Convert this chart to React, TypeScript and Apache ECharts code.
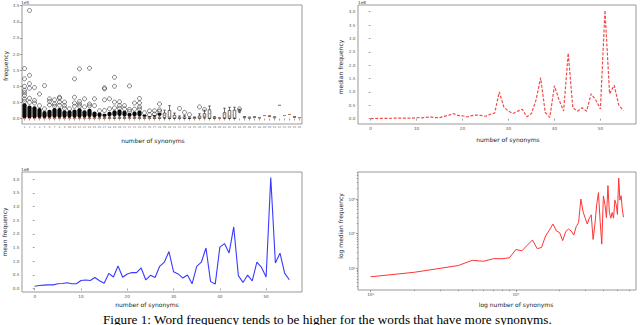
import React, { useEffect, useRef } from "react";
import * as echarts from "echarts";

// number of synonyms (box plot positions)
const synonymCounts = [1, 2, 3, 4, 5, 6, 7, 8, 9, 10, 11, 12, 13, 14, 15, 16, 17, 18, 19, 20, 21, 22, 23, 24, 25, 26, 27, 28, 29, 30, 31, 32, 33, 34, 35, 36, 37, 38, 39, 40, 41, 42, 43, 44, 45, 46, 47, 48, 49, 50, 51, 52, 53, 54, 55, 56];
// x values of the line charts
const synonymIndex = [0, 1, 2, 3, 4, 5, 6, 7, 8, 9, 10, 11, 12, 13, 14, 15, 16, 17, 18, 19, 20, 21, 22, 23, 24, 25, 26, 27, 28, 29, 30, 31, 32, 33, 34, 35, 36, 37, 38, 39, 40, 41, 42, 43, 44, 45, 46, 47, 48, 49, 50, 51, 52, 53, 54, 55];

// median frequency (units of 1e8)
const medianFreq = [
  0.0034, 0.0057, 0.0077, 0.010, 0.012, 0.017, 0.016, 0.019, 0.019, 0.020,
  0.035, 0.032, 0.047, 0.066, 0.037, 0.040, 0.086, 0.127, 0.19, 0.12,
  0.107, 0.063, 0.115, 0.136, 0.12, 0.091, 0.16, 0.21, 1.0, 0.43,
  0.28, 0.19, 0.28, 0.35, 0.068, 0.19, 0.70, 1.53, 0.23, 0.05,
  1.23, 0.70, 0.29, 2.45, 0.41, 0.28, 0.41, 0.28, 0.93, 0.70,
  0.36, 4.05, 0.93, 1.25, 0.51, 0.30,
];

// mean frequency (units of 1e8)
const meanFreq = [
  0.08, 0.11, 0.12, 0.13, 0.13, 0.17, 0.18, 0.21, 0.17, 0.17,
  0.29, 0.31, 0.29, 0.40, 0.28, 0.19, 0.55, 0.42, 0.82, 0.41,
  0.53, 0.58, 0.58, 0.75, 0.31, 0.48, 0.40, 0.81, 0.96, 1.35,
  0.61, 0.53, 0.38, 0.49, 0.17, 0.81, 0.96, 1.48, 0.25, 0.16,
  1.51, 1.64, 1.30, 2.25, 0.47, 0.22, 0.49, 0.28, 0.96, 0.77,
  0.42, 4.06, 0.93, 1.29, 0.56, 0.32,
];

// box plot statistics (units of 1e9); the median comes from medianFreq
const boxLow = [
  0, 0, 0, 0, 0, 0, 0, 0, 0, 0, 0, 0, 0, 0, 0, 0, 0, 0, 0, 0,
  0, 0, 0, 0, 0, 0, 0, 0, 0, 0, 0, 0, 0, 0, 0, 0, 0.01, 0, 0, 0,
  0, 0, 0, 0.18, 0.02, 0.01, 0.03, 0.02, 0.093, 0.06, 0.02, 0.405, 0.093, 0.125, 0.051, 0.03,
];
const boxQ1 = [
  0.0002, 0.0003, 0.0004, 0.0005, 0.0006, 0.0006, 0.0007, 0.0008, 0.0008, 0.001,
  0.001, 0.001, 0.002, 0.002, 0.002, 0.002, 0.003, 0.004, 0.004, 0.004,
  0.004, 0.003, 0.004, 0.004, 0.003, 0.003, 0.005, 0.005, 0.03, 0.008,
  0.008, 0.006, 0.01, 0.003, 0.008, 0.008, 0.04, 0.01, 0.01, 0.002,
  0.02, 0.01, 0.005, 0.22, 0.03, 0.02, 0.035, 0.025, 0.093, 0.065,
  0.03, 0.405, 0.093, 0.125, 0.051, 0.03,
];
const boxQ3 = [
  0.003, 0.004, 0.005, 0.006, 0.008, 0.008, 0.009, 0.01, 0.01, 0.012,
  0.012, 0.014, 0.016, 0.018, 0.016, 0.02, 0.025, 0.03, 0.03, 0.03,
  0.03, 0.025, 0.03, 0.03, 0.025, 0.02, 0.03, 0.04, 0.17, 0.25,
  0.10, 0.04, 0.05, 0.02, 0.03, 0.08, 0.15, 0.27, 0.04, 0.01,
  0.18, 0.25, 0.26, 0.27, 0.05, 0.035, 0.045, 0.03, 0.093, 0.075,
  0.045, 0.405, 0.093, 0.125, 0.051, 0.03,
];
const boxHigh = [
  0.007, 0.01, 0.012, 0.014, 0.019, 0.02, 0.022, 0.025, 0.025, 0.03,
  0.03, 0.033, 0.04, 0.045, 0.04, 0.05, 0.06, 0.07, 0.07, 0.075,
  0.07, 0.06, 0.07, 0.07, 0.06, 0.05, 0.07, 0.09, 0.26, 0.40,
  0.17, 0.08, 0.09, 0.04, 0.05, 0.15, 0.26, 0.39, 0.06, 0.02,
  0.32, 0.35, 0.35, 0.29, 0.06, 0.045, 0.05, 0.035, 0.093, 0.08,
  0.05, 0.405, 0.093, 0.125, 0.051, 0.03,
];
// top of the densely packed outliers (units of 1e9), only for the first groups
const denseTop = [
  0.47, 0.40, 0.38, 0.33, 0.23, 0.27, 0.33, 0.33, 0.26, 0.26,
  0.28, 0.32, 0.26, 0.30, 0.22, 0.19, 0.15, 0.21, 0.26, 0.28,
  0.24, 0.18, 0.22, 0.25, 0.12, 0.06, 0.10, 0.18,
];
// sparse outliers: [number of synonyms, frequency (1e9)]
const outlierPoints = [
  [1, 1.55], [1, 1.23], [1, 1.0], [1, 0.87], [1, 0.8], [1, 0.72], [1, 0.6], [1, 0.53],
  [2, 3.35], [2, 1.34], [2, 1.08], [2, 0.94], [2, 0.63], [2, 0.5],
  [3, 0.96], [3, 0.56], [3, 0.48],
  [4, 0.76], [4, 0.4],
  [5, 1.02], [5, 0.3],
  [6, 0.61], [6, 0.53], [6, 0.42],
  [7, 0.58], [7, 0.45], [7, 0.38],
  [8, 0.66], [8, 0.63], [8, 0.51], [8, 0.41],
  [9, 0.51], [9, 0.4], [9, 0.32],
  [10, 0.3],
  [11, 1.23], [11, 0.66], [11, 0.48], [11, 0.38],
  [12, 1.54], [12, 0.53], [12, 0.45], [12, 0.38],
  [13, 0.61], [13, 0.36],
  [14, 1.56], [14, 0.45], [14, 0.39],
  [15, 0.61], [15, 0.4],
  [16, 0.24],
  [17, 0.95], [17, 0.92], [17, 0.58], [17, 0.25],
  [18, 0.61], [18, 0.3],
  [19, 1.28], [19, 1.0], [19, 0.51], [19, 0.33],
  [20, 0.52], [20, 0.4], [20, 0.32],
  [21, 0.4], [21, 0.3],
  [22, 1.01], [22, 0.28], [22, 0.22],
  [23, 0.48], [23, 0.29],
  [24, 0.62], [24, 0.48], [24, 0.36], [24, 0.29],
  [25, 0.18],
  [26, 0.24], [26, 0.12],
  [27, 0.24], [27, 0.14],
  [28, 0.45], [28, 0.27], [28, 0.22],
  [32, 0.31], [33, 0.19], [34, 0.12], [36, 0.36], [37, 0.28], [44, 0.3],
];

// tick values
const freqTicks9 = [0, 0.5, 1.0, 1.5, 2.0, 2.5, 3.0, 3.5];
const freqTicks8 = [0, 0.5, 1.0, 1.5, 2.0, 2.5, 3.0, 3.5, 4.0];
const synonymTicks = [0, 10, 20, 30, 40, 50];
const logXTicks = [1, 10];
const logXMinor = [2, 3, 4, 5, 6, 7, 8, 9, 20, 30, 40, 50, 60];
const logYTicks = [1e6, 1e7, 1e8];
const logYMinor = [3e5, 4e5, 5e5, 6e5, 7e5, 8e5, 9e5, 2e6, 3e6, 4e6, 5e6, 6e6, 7e6, 8e6, 9e6, 2e7, 3e7, 4e7, 5e7, 6e7, 7e7, 8e7, 9e7, 2e8, 3e8, 4e8, 5e8, 6e8];

const FONT = "DejaVu Sans";
const SUP: Record<string, string> = { "-": "⁻", "0": "⁰", "1": "¹", "2": "²", "3": "³", "4": "⁴", "5": "⁵", "6": "⁶", "7": "⁷", "8": "⁸", "9": "⁹" };
const pow10Label = (v: number) =>
  "10" + String(Math.round(Math.log10(v))).split("").map((c) => SUP[c]).join("");

const tickStyle = { show: true, inside: false, length: 2, lineStyle: { color: "#666", width: 0.6 } };
const labelStyle = { fontSize: 4.2, color: "#555", fontFamily: FONT, margin: 2.5 };

function valueAxis(gridIndex: number, min: number, max: number, ticks: number[], decimals: number) {
  return {
    type: "value",
    gridIndex,
    min,
    max,
    axisLine: { show: false },
    splitLine: { show: false },
    axisTick: { ...tickStyle, customValues: ticks },
    axisLabel: {
      ...labelStyle,
      customValues: ticks,
      formatter: (v: number) => v.toFixed(decimals),
    },
  };
}

export default function App() {
  const ref = useRef<HTMLDivElement>(null);

  useEffect(() => {
    if (!ref.current) return;
    const chart = echarts.init(ref.current, null, { renderer: "svg", width: 640, height: 325 });

    const boxData = synonymCounts.map((_, i) => [boxLow[i], boxQ1[i], medianFreq[i] / 10, boxQ3[i], boxHigh[i]]);
    const medianPts = synonymCounts.map((_, i) => [i, medianFreq[i] / 10]);
    const denseBase = synonymCounts.map((_, i) => (i < denseTop.length ? boxHigh[i] : "-"));
    const denseHeight = synonymCounts.map((_, i) => (i < denseTop.length ? denseTop[i] - boxHigh[i] : "-"));
    const outliers = outlierPoints.map(([n, v]) => [synonymCounts.indexOf(n), v]);
    const medianLine = synonymIndex.map((x, i) => [x, medianFreq[i]]);
    const meanLine = synonymIndex.map((x, i) => [x, meanFreq[i]]);
    const logLine = synonymIndex.filter((x) => x > 0).map((x) => [x, medianFreq[x] * 1e8]);

    const gridBase = { show: true, borderColor: "#999", borderWidth: 1, backgroundColor: "transparent", containLabel: false, outerBoundsMode: "none" };

    const titleText = (text: string, x: number, y: number, vertical = false) => ({
      type: "text",
      x,
      y,
      rotation: vertical ? Math.PI / 2 : 0,
      style: { text, fontSize: 6, fontFamily: FONT, fill: "#222", align: "center", verticalAlign: "middle" },
    });
    const offsetText = (text: string, x: number, y: number) => ({
      type: "text",
      x,
      y,
      style: { text, fontSize: 4.2, fontFamily: FONT, fill: "#444", align: "left", verticalAlign: "middle" },
    });

    chart.setOption({
      animation: false,
      backgroundColor: "#fff",
      grid: [
        { ...gridBase, left: 22, top: 5, width: 280, height: 119 },
        { ...gridBase, left: 358, top: 5, width: 278, height: 119 },
        { ...gridBase, left: 22, top: 172, width: 280, height: 120 },
        { ...gridBase, left: 358, top: 172, width: 278, height: 118 },
      ],
      xAxis: [
        {
          type: "category",
          gridIndex: 0,
          data: synonymCounts.map(String),
          boundaryGap: true,
          axisLine: { show: false },
          splitLine: { show: false },
          axisTick: { ...tickStyle, alignWithLabel: true, interval: 0 },
          axisLabel: { fontSize: 2.6, color: "#666", fontFamily: FONT, margin: 2.5, interval: 0 },
        },
        valueAxis(1, -2.75, 57.75, synonymTicks, 0),
        valueAxis(2, -2.75, 57.75, synonymTicks, 0),
        {
          type: "log",
          gridIndex: 3,
          position: "bottom",
          min: 0.818,
          max: 67.1,
          axisLine: { show: false },
          splitLine: { show: false },
          axisTick: { ...tickStyle, customValues: logXTicks },
          axisLabel: { ...labelStyle, customValues: logXTicks, formatter: pow10Label },
        },
        {
          type: "log",
          gridIndex: 3,
          position: "bottom",
          min: 0.818,
          max: 67.1,
          axisLine: { show: false },
          splitLine: { show: false },
          axisTick: { ...tickStyle, length: 1.2, customValues: logXMinor },
          axisLabel: { show: false },
        },
      ],
      yAxis: [
        valueAxis(0, -0.17, 3.52, freqTicks9, 1),
        valueAxis(1, -0.2, 4.25, freqTicks8, 1),
        valueAxis(2, -0.13, 4.26, freqTicks8, 1),
        {
          type: "log",
          gridIndex: 3,
          position: "left",
          min: 2.37e5,
          max: 6.03e8,
          axisLine: { show: false },
          splitLine: { show: false },
          axisTick: { ...tickStyle, customValues: logYTicks },
          axisLabel: { ...labelStyle, customValues: logYTicks, formatter: pow10Label },
        },
        {
          type: "log",
          gridIndex: 3,
          position: "left",
          min: 2.37e5,
          max: 6.03e8,
          axisLine: { show: false },
          splitLine: { show: false },
          axisTick: { ...tickStyle, length: 1.2, customValues: logYMinor },
          axisLabel: { show: false },
        },
      ],
      series: [
        {
          type: "boxplot",
          xAxisIndex: 0,
          yAxisIndex: 0,
          data: boxData,
          boxWidth: [2.6, 2.6],
          itemStyle: { color: "transparent", borderColor: "#111", borderWidth: 0.6 },
          z: 2,
        },
        {
          type: "bar",
          xAxisIndex: 0,
          yAxisIndex: 0,
          stack: "dense",
          data: denseBase,
          barWidth: 4.2,
          itemStyle: { color: "transparent" },
          z: 3,
        },
        {
          type: "bar",
          xAxisIndex: 0,
          yAxisIndex: 0,
          stack: "dense",
          data: denseHeight,
          barWidth: 4.2,
          itemStyle: { color: "#0a0a0a", borderRadius: 2 },
          z: 3,
        },
        {
          type: "scatter",
          xAxisIndex: 0,
          yAxisIndex: 0,
          data: medianPts,
          symbol: "rect",
          symbolSize: [2.8, 1.1],
          itemStyle: { color: "#f2a07e" },
          z: 4,
        },
        {
          type: "scatter",
          xAxisIndex: 0,
          yAxisIndex: 0,
          data: outliers,
          symbol: "circle",
          symbolSize: 4,
          itemStyle: { color: "transparent", borderColor: "#222", borderWidth: 0.7 },
          z: 5,
        },
        {
          type: "line",
          xAxisIndex: 1,
          yAxisIndex: 1,
          data: medianLine,
          showSymbol: false,
          lineStyle: { color: "#f02c2c", width: 1.2, type: [3, 1.6], opacity: 0.85 },
        },
        {
          type: "line",
          xAxisIndex: 2,
          yAxisIndex: 2,
          data: meanLine,
          showSymbol: false,
          lineStyle: { color: "#3a3aff", width: 1.1 },
        },
        {
          type: "line",
          xAxisIndex: 3,
          yAxisIndex: 3,
          data: logLine,
          showSymbol: false,
          lineStyle: { color: "#ff3535", width: 1 },
        },
      ],
      graphic: [
        offsetText("1e9", 21, 2.5),
        offsetText("1e8", 358, 2.2),
        offsetText("1e8", 21, 169),
        titleText("frequency", 5, 66, true),
        titleText("number of synonyms", 153, 140),
        titleText("median frequency", 340, 67, true),
        titleText("number of synonyms", 508, 139.5),
        titleText("mean frequency", 4.5, 232, true),
        titleText("number of synonyms", 147, 304),
        titleText("log median frequency", 340.5, 226, true),
        titleText("log number of synonyms", 516, 304),
        {
          type: "text",
          x: 103,
          y: 319,
          style: {
            text: "Figure 1: Word frequency tends to be higher for the words that have more synonyms.",
            fontSize: 13.2,
            fontFamily: "Liberation Serif",
            fill: "#000",
            align: "left",
            verticalAlign: "middle",
          },
        },
      ],
    });

    return () => chart.dispose();
  }, []);

  return <div ref={ref} style={{ position: "absolute", left: 0, top: 0, width: 640, height: 325 }} />;
}
